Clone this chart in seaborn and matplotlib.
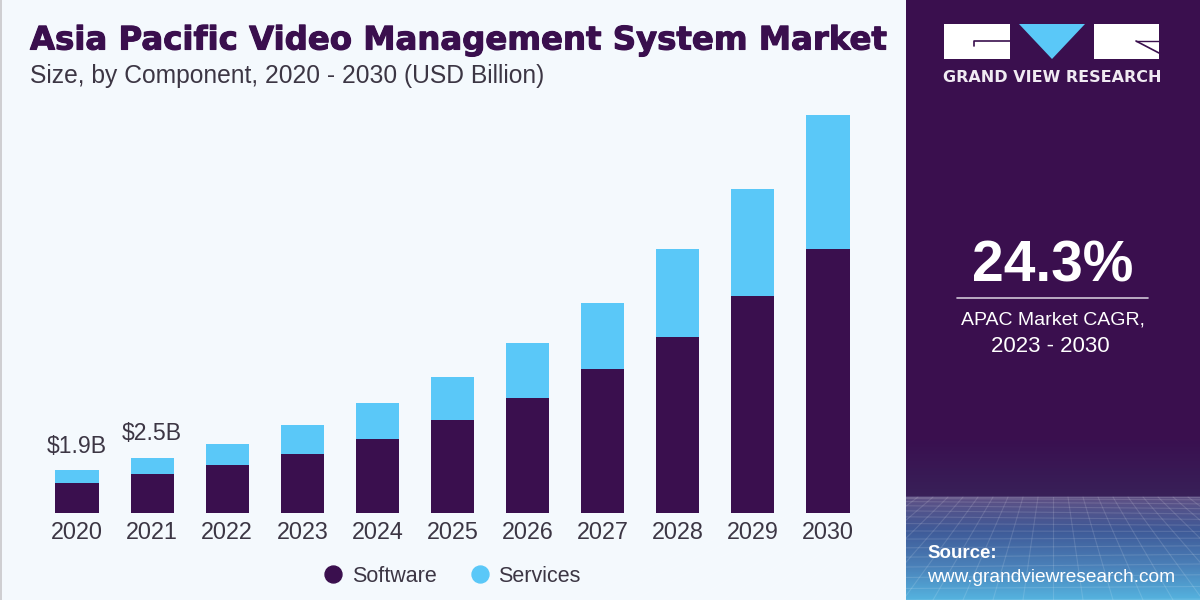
import numpy as np
import pandas as pd
import matplotlib
matplotlib.use("Agg")
import matplotlib.pyplot as plt
from matplotlib.patches import Rectangle, Polygon
from matplotlib.lines import Line2D
import matplotlib.patheffects as pe
import seaborn as sns

years = ["2020","2021","2022","2023","2024","2025","2026","2027","2028","2029","2030"]
software = [1.36,1.77,2.18,2.68,3.36,4.23,5.23,6.55,8.00,9.86,12.00]
services = [0.59,0.73,0.95,1.32,1.64,1.95,2.50,3.00,4.00,4.86,6.09]
value_labels = {"2020": "$1.9B", "2021": "$2.5B"}
title = "Asia Pacific Video Management System Market"
subtitle = "Size, by Component, 2020 - 2030 (USD Billion)"

PURPLE = "#3A0F4E"
BLUE = "#5AC8F8"
BG = "#F4F9FD"
TEXT = "#3C3644"

sns.set_theme(style="white")
plt.rcParams["font.family"] = ["Liberation Sans", "DejaVu Sans"]

W, H = 1200, 600
fig = plt.figure(figsize=(12, 6), dpi=100, facecolor=BG)

# overlay in pixel coordinates for decoration
bg = fig.add_axes([0, 0, 1, 1], zorder=0)
bg.set_xlim(0, W); bg.set_ylim(H, 0); bg.axis("off")
bg.add_patch(Rectangle((0, 0), 2, H, color="#CFCFD2", lw=0))
bg.add_patch(Rectangle((906, 0), 294, H, color=PURPLE, lw=0))

# panel gradient
c0 = np.array(matplotlib.colors.to_rgb("#3A1050"))
c1 = np.array(matplotlib.colors.to_rgb("#382058"))
c2 = np.array(matplotlib.colors.to_rgb("#5E5084"))
c3 = np.array(matplotlib.colors.to_rgb("#3F5A98"))
c4 = np.array(matplotlib.colors.to_rgb("#4A80B8"))
c5 = np.array(matplotlib.colors.to_rgb("#55B4E0"))
ys = np.array([440, 495, 497, 530, 565, 600])
cols = np.array([c0, c1, c2, c3, c4, c5])
yy = np.arange(440, 600)
grad = np.stack([np.interp(yy, ys, cols[:, i]) for i in range(3)], axis=1)[:, None, :]
bg.imshow(grad, extent=(906, 1200, 600, 440), aspect="auto", zorder=1)
bg.set_xlim(0, W); bg.set_ylim(H, 0)
# perspective grid
for k in np.linspace(-1.6, 1.6, 33):
    x_top = 1053 + k * 150
    x_bot = 1053 + k * 300
    bg.plot([x_top, x_bot], [497, 600], color="white", alpha=0.13, lw=0.8, zorder=2)
for t in np.linspace(0, 1, 15):
    y = 497 + 103 * t ** 1.6
    bg.plot([906, 1200], [y, y + 3 * np.sin(t * 6)], color="white", alpha=0.13, lw=0.8, zorder=2)
bg.set_xlim(0, W); bg.set_ylim(H, 0)

# logo
bg.add_patch(Rectangle((944, 24), 66, 35, color="white", lw=0, zorder=3))
bg.add_patch(Rectangle((1094, 24), 65, 35, color="white", lw=0, zorder=3))
bg.add_patch(Polygon([(1019, 24), (1085, 24), (1052, 59)], color=BLUE, lw=0, zorder=3))
bg.plot([1010, 974, 974], [41, 41, 46], color=PURPLE, lw=1.2, zorder=4)
bg.plot([1136, 1159], [41, 41], color=PURPLE, lw=1.0, zorder=4)
bg.plot([1136, 1159], [41, 53], color=PURPLE, lw=1.2, zorder=4)
bg.text(1052, 78, "GRAND VIEW RESEARCH", color="#F0EAF2", fontsize=11.5, fontweight="bold",
        ha="center", va="center", family="DejaVu Sans", zorder=4)

# CAGR block
bg.text(1053, 266, "24.3%", color="white", fontsize=41, fontweight="bold", ha="center", va="center", zorder=4)
bg.plot([957, 1148], [298, 298], color="#CFC6D6", lw=1.2, zorder=4)
bg.text(1053, 320, "APAC Market CAGR,", color="white", fontsize=14, ha="center", va="center", zorder=4)
bg.text(1050, 346, "2023 - 2030", color="white", fontsize=16, ha="center", va="center", zorder=4)
bg.text(927, 554, "Source:", color="white", fontsize=13.5, fontweight="bold", ha="left", va="center", zorder=4)
bg.text(927, 577, "www.grandviewresearch.com", color="white", fontsize=13.8, ha="left", va="center", zorder=4)

# titles
bg.text(30, 41, title, color=PURPLE, fontsize=23.3, fontweight="bold", ha="left", va="center",
        family="DejaVu Sans", zorder=4,
        path_effects=[pe.withStroke(linewidth=0.8, foreground=PURPLE)])
bg.text(30, 76, subtitle, color=TEXT, fontsize=17.7, ha="left", va="center", zorder=4)

# chart
df = pd.DataFrame({"year": years, "software": software, "services": services})
df["total"] = df["software"] + df["services"]
ax = fig.add_axes([39.5 / W, 1 - 513 / H, 826 / W, 413 / H], zorder=2)
ax.patch.set_alpha(0)
sns.barplot(data=df, x="year", y="total", color=BLUE, width=0.575, saturation=1, ax=ax, linewidth=0)
sns.barplot(data=df, x="year", y="software", color=PURPLE, width=0.575, saturation=1, ax=ax, linewidth=0)
ax.set_xlim(-0.5, 10.5)
ax.set_ylim(0, 413 / 22)
ax.set_xlabel(""); ax.set_ylabel(""); ax.set_yticks([])
sns.despine(ax=ax, left=True, bottom=True)
ax.tick_params(axis="x", length=0, pad=6, labelsize=16.8, labelcolor=TEXT)
for yr, lab in value_labels.items():
    i = years.index(yr)
    ax.annotate(lab, (i, df["total"][i]), xytext=(0, 9), textcoords="offset points",
                ha="center", va="bottom", fontsize=16.6, color=TEXT)

# legend
handles = [Line2D([], [], marker="o", ls="", ms=12.2, color=PURPLE, label="Software"),
           Line2D([], [], marker="o", ls="", ms=12.2, color=BLUE, label="Services")]
fig.legend(handles=handles, loc="center left", bbox_to_anchor=(322 / W, 1 - 576.5 / H), ncol=2, frameon=False,
           fontsize=15.5, labelcolor=TEXT, handlelength=1, handletextpad=0.38, columnspacing=1.5,
           borderpad=0, borderaxespad=0)

fig.savefig("out.png", dpi=100, facecolor=BG)
